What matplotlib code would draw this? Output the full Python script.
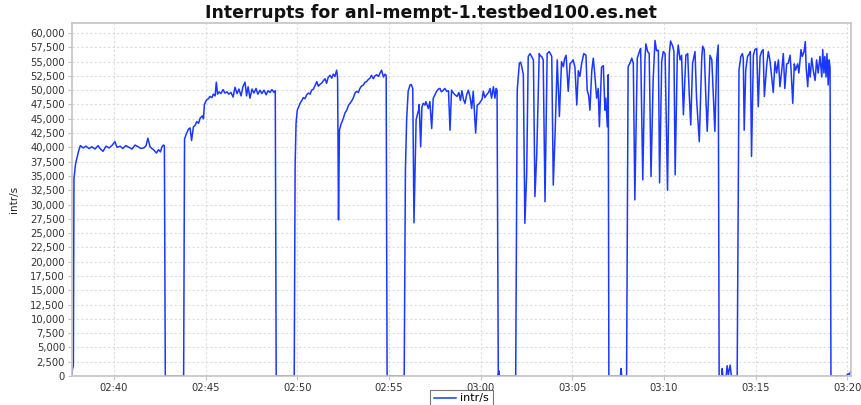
import matplotlib
matplotlib.use("Agg")
import matplotlib.pyplot as plt
import matplotlib.dates as mdates
from matplotlib.ticker import FuncFormatter, MultipleLocator
from datetime import datetime, timedelta

title = "Interrupts for anl-mempt-1.testbed100.es.net"
ylabel = "intr/s"
series_name = "intr/s"
start = datetime(2010, 1, 1, 2, 37, 0)

# seconds after 02:37:00
seconds = [
    43, 44, 47, 49, 54, 59, 65, 70, 79, 88, 98, 108, 118, 128, 134, 144, 154, 164, 173, 183,
    190, 200, 209, 219, 229, 239, 249, 259, 268, 278, 285, 291, 298, 304, 311, 319, 326, 332, 337, 342,
    345, 348, 408,
    411, 418, 424, 429, 434, 440, 445, 451, 457, 462, 469, 473, 476, 483, 489, 494, 501, 505, 511, 515,
    519, 524, 530, 537, 543, 550, 556, 563, 570, 576, 583, 589, 596, 602, 609, 614, 619, 625, 632, 638,
    645, 651, 658, 664, 671, 678, 684, 691, 697, 704, 708, 711,
    770, 773, 776, 780, 786, 790, 795, 800, 805, 811, 817, 822, 827, 833, 838, 844, 849, 854, 861, 866, 871,
    876, 881, 887, 893, 898, 903, 909, 912, 915, 918, 923, 931, 936, 942, 948, 953, 959, 963, 969, 974,
    980, 985, 990, 996, 1002, 1007, 1013, 1018, 1023, 1029, 1034, 1040, 1046, 1051, 1056, 1062, 1067, 1071, 1074,
    1130, 1134, 1138, 1143, 1149, 1153, 1158, 1162, 1169, 1173, 1177, 1179, 1184, 1188, 1192, 1198, 1201, 1209,
    1214, 1220, 1225, 1231, 1236, 1242, 1247, 1252, 1258, 1263, 1269, 1275, 1280, 1285, 1291, 1296, 1303, 1309,
    1314, 1319, 1324, 1329, 1335, 1340, 1345, 1351, 1356, 1364, 1369, 1375, 1380, 1385, 1389, 1394, 1400, 1406,
    1411, 1416, 1422, 1427, 1431, 1434, 1438, 1440, 1442,
    1495, 1500, 1507, 1511, 1515, 1520, 1525, 1531, 1536, 1542, 1547, 1553, 1558, 1564, 1572, 1576, 1580, 1585,
    1591, 1598, 1605, 1613, 1618, 1624, 1631, 1638, 1645, 1651, 1655, 1660, 1667, 1673, 1678, 1683, 1689, 1695,
    1700, 1705, 1711, 1718, 1725, 1729, 1734, 1738, 1744, 1749, 1754, 1760, 1765, 1769, 1776, 1782, 1787, 1790,
    1795, 1798, 1800, 1838, 1840, 1842,
    1858, 1863, 1869, 1875, 1880, 1885, 1893, 1900, 1904, 1911, 1918, 1921, 1927, 1932, 1938, 1945, 1951, 1956,
    1962, 1966, 1973, 1978, 1984, 1992, 1998, 2002, 2009, 2013, 2017, 2024, 2027, 2033, 2038, 2044, 2052, 2058,
    2063, 2068, 2074, 2082, 2087, 2096, 2104, 2107, 2112, 2118, 2122, 2131, 2137, 2142, 2147, 2153, 2158, 2161,
    2170, 2171, 2173, 2184, 2187, 2191, 2197, 2201, 2220,
    2226, 2232, 2237, 2240, 2243, 2248, 2254, 2260, 2263, 2267, 2273, 2278, 2284, 2289, 2295, 2300, 2305, 2309,
    2317, 2322, 2327, 2333, 2338, 2344, 2349, 2355, 2360, 2366, 2371, 2376, 2382, 2387, 2393, 2396, 2402, 2407,
    2411, 2418, 2422, 2429, 2433, 2439, 2443, 2446, 2451, 2455, 2459, 2464, 2469, 2475, 2480, 2485, 2491, 2497,
    2500, 2504, 2507, 2511, 2514, 2518, 2521, 2524, 2527, 2578, 2583, 2588, 2592,
]

values = [
    300, 1200, 1800, 34500, 37000, 38200, 39500, 40300, 39900, 40200, 39800, 40100, 39700, 40300, 39800, 39300,
    40200, 39900, 40300, 41000, 40000, 40200, 39800, 40300, 40000, 39700, 40400, 40100, 39800, 39900, 40300, 41600,
    40100, 39800, 39500, 39000, 39600, 39200, 40100, 40400, 40300, 0, 0,
    41500, 42500, 43200, 43400, 41200, 43600, 43800, 44500, 44200, 45100, 45500, 45000, 47500, 48300, 48500, 48900,
    48700, 49300, 49000, 51400, 49300, 49700, 49400, 50100, 49500, 49700, 49300, 49600, 48800, 50500, 49400, 50200,
    49000, 50600, 51400, 49000, 50600, 48600, 50200, 49500, 50300, 49300, 50000, 49400, 50000, 49200, 49900, 49600,
    50100, 49600, 49900, 0,
    0, 37000, 44200, 46500, 47300, 47800, 48200, 48700, 48500, 49200, 49500, 49300, 50000, 50200, 50800, 51500,
    50700, 51000, 51300, 51700, 52000, 51200, 52200, 52600, 52100, 52800, 52400, 53500, 52200, 27300, 43000,
    44000, 45100, 46000, 46500, 47400, 47700, 48200, 48600, 49500, 49800, 49600, 50300, 50700, 50900, 51400,
    51500, 51900, 52100, 52600, 52000, 52500, 52700, 52400, 53000, 53500, 52300, 52800, 52600, 0,
    0, 36000, 44800, 49800, 50900, 51000, 50300, 26800, 44800, 45700, 46500, 47500, 40100, 47000, 47700, 47400,
    48000, 46800, 48000, 43300, 48600, 49200, 49800, 50200, 50300, 49700, 50000, 50300, 49800, 49900, 43000,
    50000, 49500, 49200, 48900, 49600, 48200, 49900, 48400, 47700, 49300, 50000, 49000, 46800, 49800, 42500,
    47400, 47600, 48000, 48400, 49800, 48700, 49200, 49600, 50300, 48600, 50600, 48600, 50300, 50000, 0, 900, 0,
    0, 50000, 54700, 54900, 54100, 52700, 26700, 35500, 55900, 56400, 55900, 55300, 31400, 39000, 56400, 56000,
    55900, 55300, 30500, 56400, 56750, 55900, 33400, 42500, 55300, 45400, 55000, 54100, 55500, 56100, 49800,
    54700, 54900, 55300, 54000, 47400, 53400, 52400, 54700, 56400, 56100, 50000, 49000, 46500, 53400, 55600,
    52700, 48600, 50300, 43600, 54000, 54300, 46500, 48600, 43600, 52700, 0, 0, 1300, 0,
    0, 54100, 54700, 55600, 54700, 30800, 55600, 56750, 57300, 34300, 55300, 58100, 56750, 56400, 34900, 51800,
    58700, 56900, 57000, 33800, 55000, 56750, 56400, 32500, 56400, 58600, 57700, 56750, 35200, 55900, 57900,
    55300, 56100, 45700, 56100, 56400, 49400, 43900, 54700, 56750, 48600, 41000, 55600, 57700, 57100, 48000,
    42800, 56100, 55300, 48900, 42800, 55300, 57900, 0, 0, 1300, 0, 0, 1800, 200, 1900, 0, 0,
    53500, 55900, 56400, 55600, 43000, 53500, 55900, 56400, 56750, 38400, 56100, 57100, 57300, 47100, 55900,
    56750, 57100, 48900, 54600, 56750, 55300, 52300, 49600, 55000, 53000, 55300, 50600, 53500, 56400, 50300,
    54600, 54700, 56100, 54000, 47700, 54600, 53500, 54600, 53000, 57100, 55900, 56750, 58500, 53800, 50600,
    54700, 52300, 55600, 53500, 51700, 55300, 53000, 55900, 52300, 57100, 53000, 55900, 52300, 56400, 50900,
    55300, 54000, 0, 0, 400, 300, 800,
]

x_start_sec = 42.5
x_end_sec = 2592.5
y_max = 61750

times = [start + timedelta(seconds=s) for s in seconds]

fig = plt.figure(figsize=(8.62, 4.05), dpi=100)
ax = fig.add_axes([0.0835, 0.0716, 0.9037, 0.8716])

ax.plot(times, values, color="#1a38ff", linewidth=1.1, label=series_name)

ax.set_xlim(start + timedelta(seconds=x_start_sec), start + timedelta(seconds=x_end_sec))
ax.set_ylim(0, y_max)

ax.yaxis.set_major_locator(MultipleLocator(2500))
ax.yaxis.set_major_formatter(FuncFormatter(lambda v, p: f"{int(v):,}"))
ax.xaxis.set_major_locator(mdates.MinuteLocator(byminute=range(0, 60, 5)))
ax.xaxis.set_major_formatter(mdates.DateFormatter("%H:%M"))

ax.grid(True, color="#dcdcdc", linestyle=(0, (2, 2)), linewidth=0.8)
ax.set_axisbelow(True)
for sp in ax.spines.values():
    sp.set_color("#c4c4c4")
    sp.set_linewidth(1.2)

ax.tick_params(axis="both", labelsize=7.2, colors="#c4c4c4", labelcolor="#333333", length=3, width=0.8, pad=2)

ax.set_ylabel(ylabel, fontsize=7.5, color="#222222", labelpad=8)
fig.text(0.5, 0.967, title, ha="center", va="center", fontsize=12.5, fontweight="bold", color="#111111")

leg = ax.legend(loc="upper center", bbox_to_anchor=(0.5, -0.04), frameon=True, fancybox=False,
                fontsize=8, handlelength=2.0, borderpad=0.3, handletextpad=0.4, borderaxespad=0)
leg.get_frame().set_edgecolor("#555555")
leg.get_frame().set_linewidth(0.8)

fig.savefig("out.png", dpi=100)
